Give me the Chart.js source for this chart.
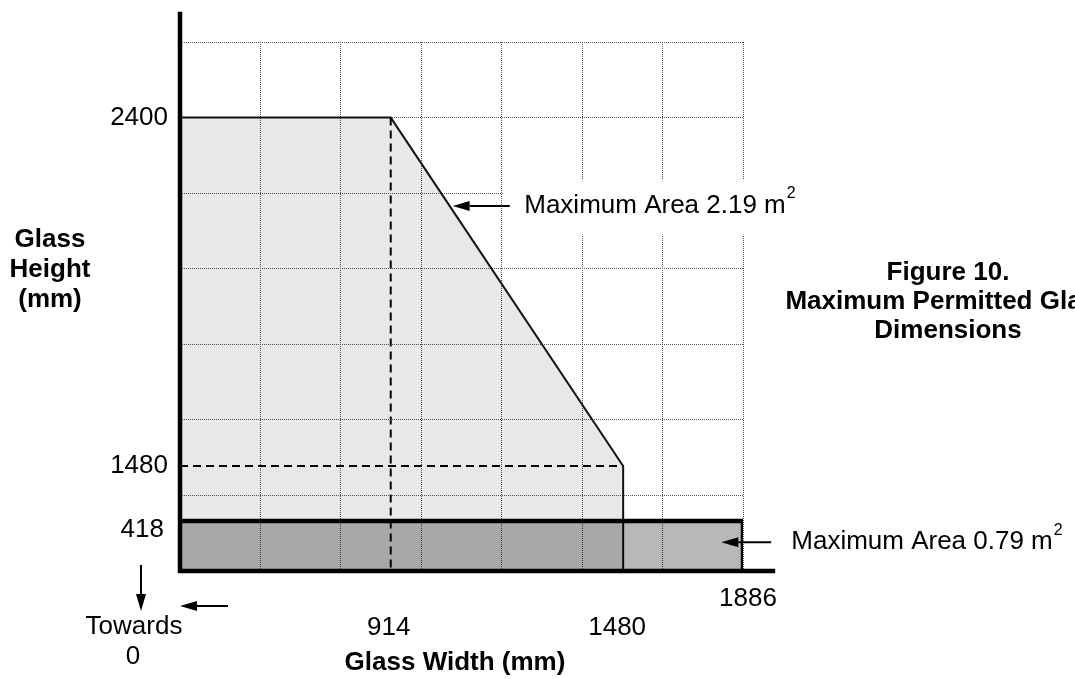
<!DOCTYPE html>
<html>
<head>
<meta charset="utf-8">
<title>Maximum Permitted Glass Dimensions</title>
<script src="https://cdn.jsdelivr.net/npm/chart.js@4.4.1/dist/chart.umd.min.js"></script>
<style>
  html, body { margin: 0; padding: 0; background: #fff; overflow: hidden; }
  canvas { display: block; }
</style>
</head>
<body>
<canvas id="glassChart" width="1075" height="679"></canvas>
<script>
// values, in mm
const widthTicks = [914, 1480, 1886];
const heightTicks = [2400, 1480, 418];
const envelopeWidth = [0, 914, 1480, 1480];
const envelopeHeight = [2400, 2400, 1480, 0];
const bandWidth = [0, 1886, 1886];
const bandHeight = [418, 418, 0];
const areaLabels = ['Maximum Area 2.19 m', 'Maximum Area 0.79 m'];

// the drawing is not to scale: mm -> grid squares along each axis
const widthBreaks = [[0, 0], [914, 2.62], [1480, 5.51], [1886, 7]];
const heightBreaks = [[0, 0], [418, 0.66], [1480, 1.39], [2400, 6]];

function toGrid(v, breaks) {
    for (let i = 1; i < breaks.length; i++) {
        const [a, ga] = breaks[i - 1];
        const [b, gb] = breaks[i];
        if (v <= b || i === breaks.length - 1) {
            return ga + (v - a) * (gb - ga) / (b - a);
        }
    }
}

const pts = (xs, ys) => xs.map((x, i) => ({
    x: toGrid(x, widthBreaks),
    y: toGrid(ys[i], heightBreaks)
}));

const FONT = '"Liberation Sans", Arial, sans-serif';

function arrow(ctx, x1, y1, x2, y2) {
    const ang = Math.atan2(y2 - y1, x2 - x1);
    const head = 17, half = 5;
    const bx = x2 - head * Math.cos(ang), by = y2 - head * Math.sin(ang);
    ctx.lineWidth = 2;
    ctx.beginPath();
    ctx.moveTo(x1, y1);
    ctx.lineTo(bx, by);
    ctx.stroke();
    ctx.beginPath();
    ctx.moveTo(x2, y2);
    ctx.lineTo(bx + half * Math.sin(ang), by - half * Math.cos(ang));
    ctx.lineTo(bx - half * Math.sin(ang), by + half * Math.cos(ang));
    ctx.closePath();
    ctx.fill();
}

function text(ctx, str, x, y, align, bold) {
    ctx.font = (bold ? 'bold ' : '') + '26px ' + FONT;
    ctx.textAlign = align;
    ctx.textBaseline = 'middle';
    ctx.fillText(str, x, y);
}

function areaLabel(ctx, str, x, y) {
    text(ctx, str, x, y, 'left', false);
    const w = ctx.measureText(str).width;
    ctx.font = '16px ' + FONT;
    ctx.fillText('2', x + w + 1, y - 12);
}

const annotate = {
    id: 'annotate',
    afterDraw(chart) {
        const { ctx, scales: { x, y } } = chart;
        const gx = u => x.getPixelForValue(u);
        const gy = u => y.getPixelForValue(u);
        const px = v => gx(toGrid(v, widthBreaks));
        const py = v => gy(toGrid(v, heightBreaks));
        const x0 = gx(0), y0 = gy(0);

        ctx.save();
        ctx.fillStyle = '#000';
        ctx.strokeStyle = '#000';

        // thick axes, running past the grid
        ctx.lineWidth = 4.5;
        ctx.beginPath();
        ctx.moveTo(x0, gy(7.4));
        ctx.lineTo(x0, y0 + 2);
        ctx.moveTo(x0 - 2, y0);
        ctx.lineTo(gx(7.4), y0);
        ctx.stroke();

        // height ticks
        text(ctx, String(heightTicks[0]), x0 - 12, py(heightTicks[0]), 'right');
        text(ctx, String(heightTicks[1]), x0 - 12, py(heightTicks[1]), 'right');
        text(ctx, String(heightTicks[2]), x0 - 16, py(heightTicks[2]) + 9, 'right');

        // width ticks
        text(ctx, String(widthTicks[0]), px(widthTicks[0]) - 2, y0 + 57, 'center');
        text(ctx, String(widthTicks[1]), px(widthTicks[1]) - 6, y0 + 57, 'center');
        text(ctx, String(widthTicks[2]), px(widthTicks[2]) + 5, y0 + 28, 'center');

        // towards 0
        text(ctx, 'Towards', x0 - 46, y0 + 56, 'center');
        text(ctx, '0', x0 - 47, y0 + 86, 'center');
        arrow(ctx, x0 - 39, y0 - 6, x0 - 39, y0 + 40);
        arrow(ctx, x0 + 48, y0 + 35, x0, y0 + 35);

        // axis titles
        ['Glass', 'Height', '(mm)'].forEach((s, i) => text(ctx, s, 50, 240 + i * 30, 'center', true));
        text(ctx, 'Glass Width (mm)', 455, y0 + 92, 'center', true);

        // area callouts
        ctx.fillStyle = '#fff';
        ctx.fillRect(gx(4.02), gy(5.17), 320, gy(4.45) - gy(5.17));
        ctx.fillStyle = '#000';
        arrow(ctx, gx(4.1), gy(4.83), gx(3.39), gy(4.83));
        areaLabel(ctx, areaLabels[0], gx(4.28), gy(4.83));
        arrow(ctx, gx(7.35), gy(0.38), gx(6.73), gy(0.38));
        areaLabel(ctx, areaLabels[1], gx(7.6), gy(0.38));

        // figure caption
        ['Figure 10.', 'Maximum Permitted Glass', 'Dimensions'].forEach((s, i) => text(ctx, s, 948, 273 + i * 29, 'center', true));
        ctx.restore();
    }
};

const gridScale = {
    type: 'linear',
    min: 0,
    max: 7,
    ticks: { display: false, stepSize: 1 },
    grid: { color: '#555', lineWidth: 1, drawTicks: false },
    border: { display: false, dash: [1, 1] }
};

new Chart(document.getElementById('glassChart'), {
    type: 'line',
    data: {
        datasets: [
            {
                data: pts([widthTicks[0], widthTicks[0]], [heightTicks[0], 0]),
                borderColor: '#000', borderWidth: 2, borderDash: [8, 5], fill: false, order: 0
            },
            {
                data: pts([0, widthTicks[1]], [heightTicks[1], heightTicks[1]]),
                borderColor: '#000', borderWidth: 2, borderDash: [8, 5], fill: false, order: 0
            },
            {
                data: pts(bandWidth, bandHeight),
                borderColor: '#000', borderWidth: 4.5, backgroundColor: 'rgba(0,0,0,0.28)', fill: 'origin', order: 1
            },
            {
                data: pts(envelopeWidth, envelopeHeight),
                borderColor: '#111', borderWidth: 2, backgroundColor: 'rgba(0,0,0,0.09)', fill: 'origin', order: 2
            }
        ]
    },
    options: {
        responsive: false,
        animation: false,
        devicePixelRatio: 1,
        layout: { padding: { left: 180, right: 332, top: 42, bottom: 108 } },
        elements: { point: { radius: 0 }, line: { tension: 0 } },
        plugins: { legend: { display: false }, tooltip: { enabled: false } },
        scales: {
            x: { ...gridScale, afterFit: s => { s.height = 0; } },
            y: { ...gridScale, afterFit: s => { s.width = 0; } }
        }
    },
    plugins: [annotate]
});
</script>
</body>
</html>
